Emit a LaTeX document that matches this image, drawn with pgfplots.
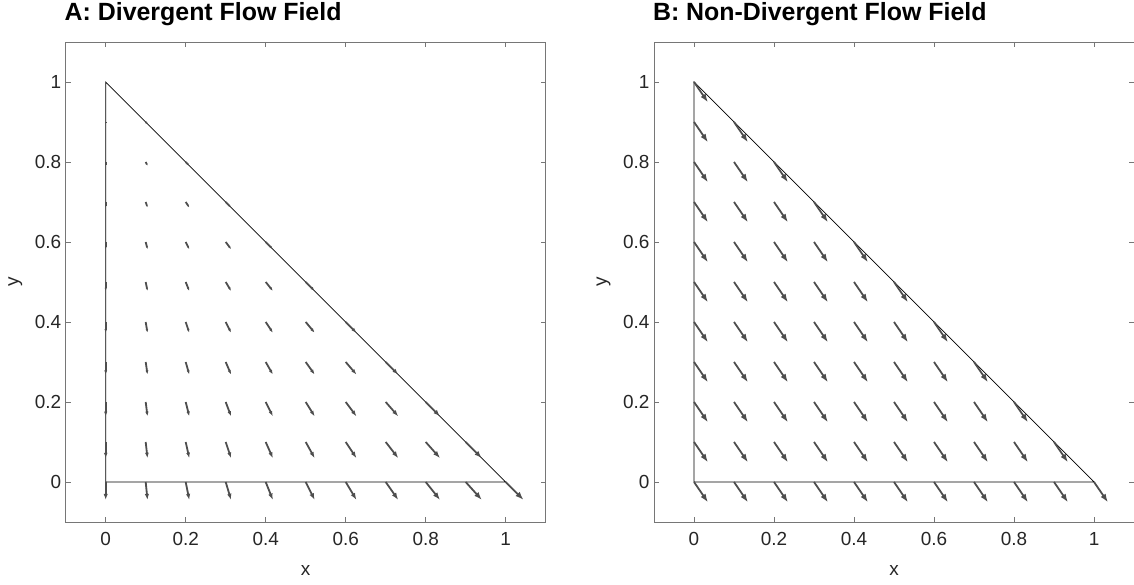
\documentclass[border=0pt]{standalone}
\usepackage{pgfplots}
\pgfplotsset{compat=1.18}
\usepackage{pgfplotstable}
\usepackage{fontspec}
\setmainfont{Liberation Sans}
\usetikzlibrary{arrows.meta}
\definecolor{axgray}{RGB}{118,118,118}
\definecolor{tickc}{RGB}{38,38,38}
\definecolor{arrc}{RGB}{78,78,78}

\pgfplotstableread{
x y u v
0 0 0 -0.045
0 0.1 0 -0.0405
0 0.2 0 -0.036
0 0.3 0 -0.0315
0 0.4 0 -0.027
0 0.5 0 -0.0225
0 0.6 0 -0.018
0 0.7 0 -0.0135
0 0.8 0 -0.009
0 0.9 0 -0.0045
0.1 0 0.0045 -0.045
0.1 0.1 0.0045 -0.0405
0.1 0.2 0.0045 -0.036
0.1 0.3 0.0045 -0.0315
0.1 0.4 0.0045 -0.027
0.1 0.5 0.0045 -0.0225
0.1 0.6 0.0045 -0.018
0.1 0.7 0.0045 -0.0135
0.1 0.8 0.0045 -0.009
0.1 0.9 0.0045 -0.0045
0.2 0 0.009 -0.045
0.2 0.1 0.009 -0.0405
0.2 0.2 0.009 -0.036
0.2 0.3 0.009 -0.0315
0.2 0.4 0.009 -0.027
0.2 0.5 0.009 -0.0225
0.2 0.6 0.009 -0.018
0.2 0.7 0.009 -0.0135
0.2 0.8 0.009 -0.009
0.3 0 0.0135 -0.045
0.3 0.1 0.0135 -0.0405
0.3 0.2 0.0135 -0.036
0.3 0.3 0.0135 -0.0315
0.3 0.4 0.0135 -0.027
0.3 0.5 0.0135 -0.0225
0.3 0.6 0.0135 -0.018
0.3 0.7 0.0135 -0.0135
0.4 0 0.018 -0.045
0.4 0.1 0.018 -0.0405
0.4 0.2 0.018 -0.036
0.4 0.3 0.018 -0.0315
0.4 0.4 0.018 -0.027
0.4 0.5 0.018 -0.0225
0.4 0.6 0.018 -0.018
0.5 0 0.0225 -0.045
0.5 0.1 0.0225 -0.0405
0.5 0.2 0.0225 -0.036
0.5 0.3 0.0225 -0.0315
0.5 0.4 0.0225 -0.027
0.5 0.5 0.0225 -0.0225
0.6 0 0.027 -0.045
0.6 0.1 0.027 -0.0405
0.6 0.2 0.027 -0.036
0.6 0.3 0.027 -0.0315
0.6 0.4 0.027 -0.027
0.7 0 0.0315 -0.045
0.7 0.1 0.0315 -0.0405
0.7 0.2 0.0315 -0.036
0.7 0.3 0.0315 -0.0315
0.8 0 0.036 -0.045
0.8 0.1 0.036 -0.0405
0.8 0.2 0.036 -0.036
0.9 0 0.0405 -0.045
0.9 0.1 0.0405 -0.0405
1 0 0.045 -0.045
}\divfield

\pgfplotstableread{
x y u v
0 0 0.035 -0.051
0 0.1 0.035 -0.051
0 0.2 0.035 -0.051
0 0.3 0.035 -0.051
0 0.4 0.035 -0.051
0 0.5 0.035 -0.051
0 0.6 0.035 -0.051
0 0.7 0.035 -0.051
0 0.8 0.035 -0.051
0 0.9 0.035 -0.051
0 1 0.035 -0.051
0.1 0 0.035 -0.051
0.1 0.1 0.035 -0.051
0.1 0.2 0.035 -0.051
0.1 0.3 0.035 -0.051
0.1 0.4 0.035 -0.051
0.1 0.5 0.035 -0.051
0.1 0.6 0.035 -0.051
0.1 0.7 0.035 -0.051
0.1 0.8 0.035 -0.051
0.1 0.9 0.035 -0.051
0.2 0 0.035 -0.051
0.2 0.1 0.035 -0.051
0.2 0.2 0.035 -0.051
0.2 0.3 0.035 -0.051
0.2 0.4 0.035 -0.051
0.2 0.5 0.035 -0.051
0.2 0.6 0.035 -0.051
0.2 0.7 0.035 -0.051
0.2 0.8 0.035 -0.051
0.3 0 0.035 -0.051
0.3 0.1 0.035 -0.051
0.3 0.2 0.035 -0.051
0.3 0.3 0.035 -0.051
0.3 0.4 0.035 -0.051
0.3 0.5 0.035 -0.051
0.3 0.6 0.035 -0.051
0.3 0.7 0.035 -0.051
0.4 0 0.035 -0.051
0.4 0.1 0.035 -0.051
0.4 0.2 0.035 -0.051
0.4 0.3 0.035 -0.051
0.4 0.4 0.035 -0.051
0.4 0.5 0.035 -0.051
0.4 0.6 0.035 -0.051
0.5 0 0.035 -0.051
0.5 0.1 0.035 -0.051
0.5 0.2 0.035 -0.051
0.5 0.3 0.035 -0.051
0.5 0.4 0.035 -0.051
0.5 0.5 0.035 -0.051
0.6 0 0.035 -0.051
0.6 0.1 0.035 -0.051
0.6 0.2 0.035 -0.051
0.6 0.3 0.035 -0.051
0.6 0.4 0.035 -0.051
0.7 0 0.035 -0.051
0.7 0.1 0.035 -0.051
0.7 0.2 0.035 -0.051
0.7 0.3 0.035 -0.051
0.8 0 0.035 -0.051
0.8 0.1 0.035 -0.051
0.8 0.2 0.035 -0.051
0.9 0 0.035 -0.051
0.9 0.1 0.035 -0.051
1 0 0.035 -0.051
}\nondivfield

\pgfplotsset{
  every axis title shift=0pt,
  flowaxis/.style={
    anchor=south west,
    width=480bp, height=480bp, scale only axis,
    xmin=-0.1, xmax=1.1, ymin=-0.1, ymax=1.1,
    xtick={0,0.2,0.4,0.6,0.8,1},
    ytick={0,0.2,0.4,0.6,0.8,1},
    tick align=inside, tick pos=both,
    major tick length=5bp,
    axis line style={draw=axgray, line width=0.7bp},
    every tick/.style={draw=axgray, line width=0.7bp},
    /pgf/number format/assume math mode=true,
    ticklabel style={font=\fontsize{19}{19}\selectfont, text=tickc},
    xticklabel style={yshift=-7bp},
    yticklabel style={xshift=-1bp},
    xlabel={x}, ylabel={y},
    label style={font=\fontsize{19}{19}\selectfont, text=tickc},
    xlabel style={at={(axis description cs:0.5,-0.1)}, anchor=center},
    ylabel style={at={(axis description cs:-0.105,0.5)}, anchor=center},
    title style={at={(axis description cs:0,1)}, anchor=base west,
      yshift=21.5bp, xshift=-4.5bp, font=\fontsize{25}{25}\selectfont\bfseries, text=black},
  },
}

\begin{document}
\begin{tikzpicture}
\path[use as bounding box] (0,0) rectangle (1134bp,585bp);
\begin{axis}[flowaxis, at={(65.7bp,63bp)}, title={A: Divergent Flow Field}]
\addplot[black, line width=0.7bp] coordinates {(0,0) (1,0) (0,1) (0,0)};
\addplot[arrc, line width=1.8bp,
  point meta={sqrt((\thisrow{u})^2+(\thisrow{v})^2)},
  point meta min=0, point meta max=0.0636,
  quiver={u=\thisrow{u}, v=\thisrow{v},
    every arrow/.append style={
      -{Latex[length=8.5bp, width=6bp,
        scale={max(0.12,\pgfplotspointmetatransformed/1000)}]}
    }
  }] table[x=x, y=y] {\divfield};
\end{axis}
\begin{axis}[flowaxis, at={(654bp,63bp)}, title={B: Non-Divergent Flow Field}]
\addplot[black, line width=0.7bp] coordinates {(0,0) (1,0) (0,1) (0,0)};
\addplot[arrc, line width=1.8bp, -{Latex[length=8.5bp, width=6bp]},
  quiver={u=\thisrow{u}, v=\thisrow{v}}] table[x=x, y=y] {\nondivfield};
\end{axis}
\end{tikzpicture}
\end{document}
